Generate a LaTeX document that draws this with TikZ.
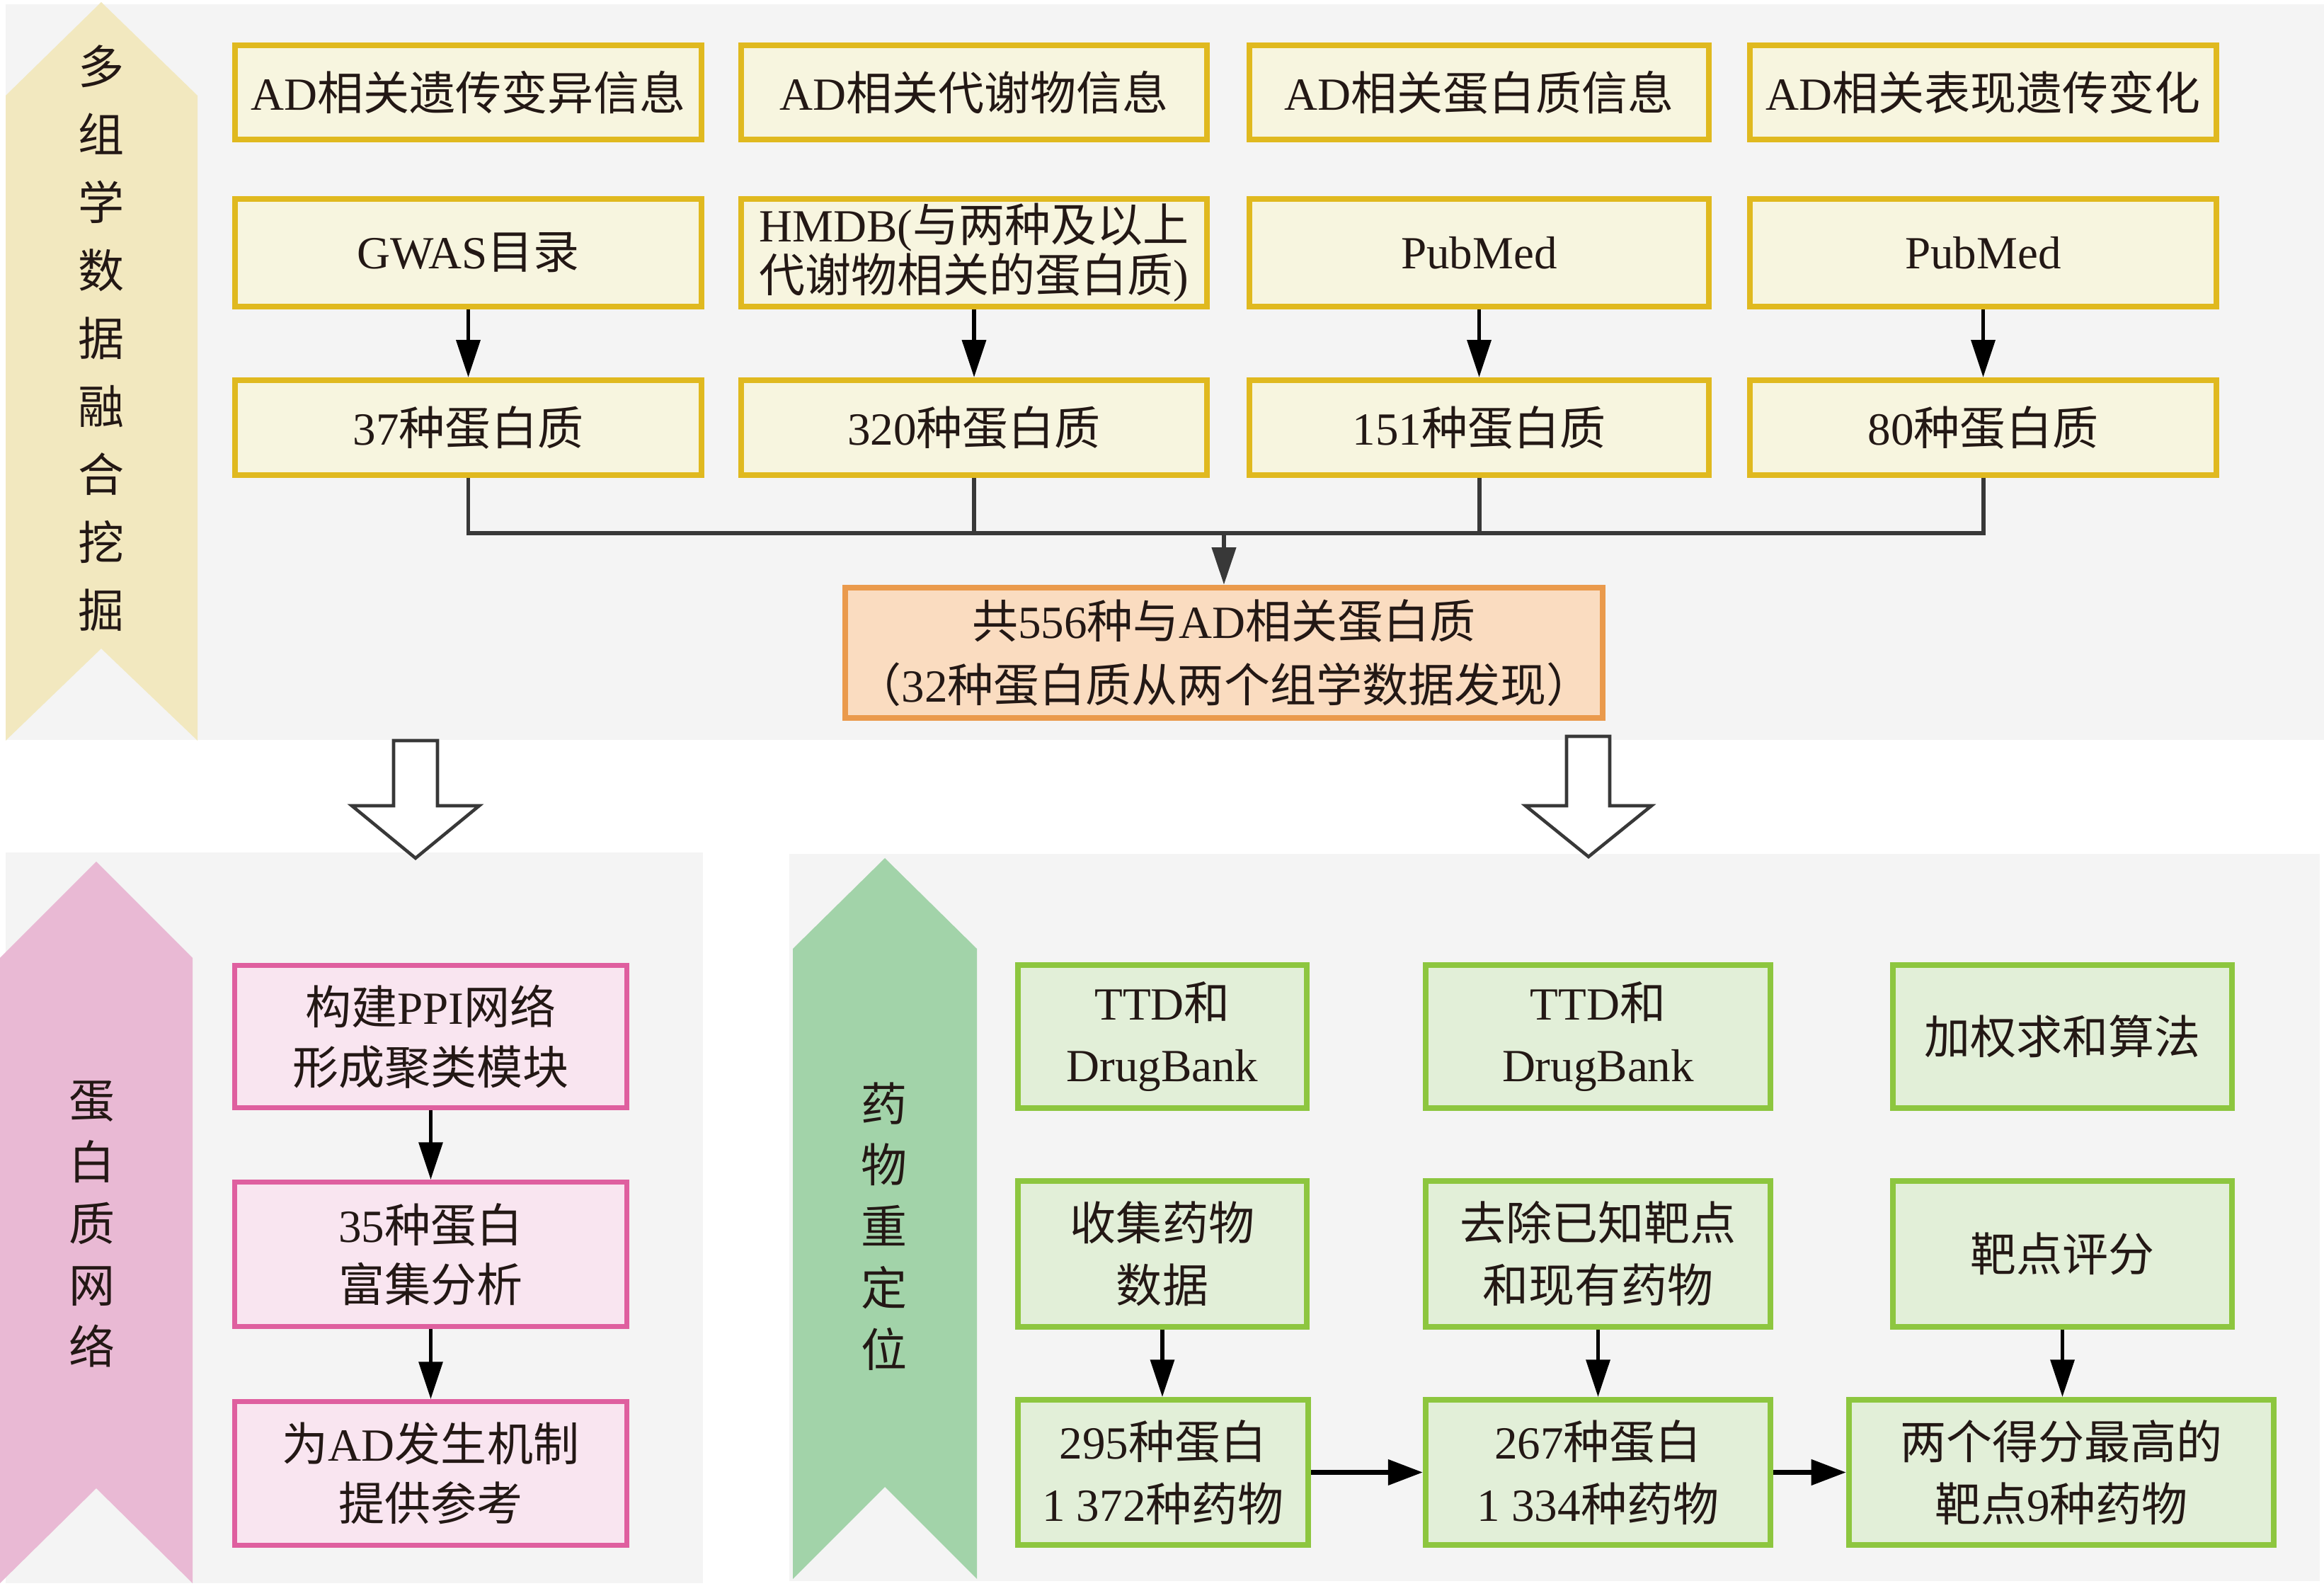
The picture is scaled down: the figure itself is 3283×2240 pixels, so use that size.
\documentclass[tikz,border=0pt]{standalone}
\usepackage{fontspec}
\setmainfont{Noto Sans CJK SC}
\newfontfamily\latf{Liberation Serif}
\newcommand\enx[1]{{\latf #1}}
\usetikzlibrary{arrows.meta}
\definecolor{panel}{HTML}{F4F4F4}
\definecolor{txt}{HTML}{231815}
\definecolor{ychev}{HTML}{F2E8BF}
\definecolor{yfill}{HTML}{F7F5DF}
\definecolor{ydraw}{HTML}{E0B91F}
\definecolor{ofill}{HTML}{FADCC0}
\definecolor{odraw}{HTML}{EA9A4C}
\definecolor{pchev}{HTML}{E9B9D4}
\definecolor{pfill}{HTML}{F9E5F0}
\definecolor{pdraw}{HTML}{DF5F9F}
\definecolor{gchev}{HTML}{A2D3A9}
\definecolor{gfill}{HTML}{E2EFD8}
\definecolor{gdraw}{HTML}{8DC63F}
\definecolor{busc}{HTML}{383838}
\tikzset{
  boxbase/.style={rectangle, inner sep=0pt, align=center, text=txt,
    font=\fontsize{18.5pt}{25pt}\selectfont},
  ybox/.style={boxbase, draw=ydraw, fill=yfill, line width=2.3pt},
  obox/.style={boxbase, draw=odraw, fill=ofill, line width=2.3pt,
    font=\fontsize{18.5pt}{25.6pt}\selectfont},
  pbox/.style={boxbase, draw=pdraw, fill=pfill, line width=1.9pt,
    font=\fontsize{18.5pt}{24pt}\selectfont},
  gbox/.style={boxbase, draw=gdraw, fill=gfill, line width=2.2pt},
  vtext/.style={inner sep=0pt, align=center, text=txt},
  arr/.style={draw=black, line width=1.5pt, -{Triangle[length=15pt,width=9.5pt]}},
  harr/.style={draw=black, line width=2pt, -{Triangle[length=14pt,width=10pt]}},
  bus/.style={draw=busc, line width=1.7pt},
  hollow/.style={draw=busc, fill=white, line width=1.3pt, line join=miter}
}
\begin{document}
\begin{tikzpicture}[x=0.01cm, y=-0.01cm]
\useasboundingbox (0,0) rectangle (3283,2240);
\fill[white] (0,0) rectangle (3283,2240);
% panels
\fill[panel] (8,6) rectangle (3283,1045);
\fill[panel] (8,1204) rectangle (993,2236);
\fill[panel] (1115,1206) rectangle (3277,2233);
% chevrons
\fill[ychev] (8,135) -- (143,3) -- (279,135) -- (279,1046) -- (143,916) -- (8,1046) -- cycle;
\fill[pchev] (0,1353) -- (136,1217) -- (272,1353) -- (272,2236) -- (136,2102) -- (0,2236) -- cycle;
\fill[gchev] (1120,1340) -- (1250,1212) -- (1380,1340) -- (1380,2230) -- (1250,2100) -- (1120,2230) -- cycle;
\node[vtext, font=\fontsize{18.5pt}{27.3pt}\selectfont] (ylab) at (143,478) {多\\组\\学\\数\\据\\融\\合\\挖\\掘};
\node[vtext, font=\fontsize{18.5pt}{24.7pt}\selectfont] (plab) at (130,1729) {蛋\\白\\质\\网\\络};
\node[vtext, font=\fontsize{18.5pt}{24.7pt}\selectfont] (glab) at (1249,1732) {药\\物\\重\\定\\位};
% top boxes
\node[ybox, minimum width=6.59cm, minimum height=1.33cm] (t1a) at (661.5,130.5) {\enx{AD}相关遗传变异信息};
\node[ybox, minimum width=6.58cm, minimum height=1.33cm] (t1b) at (1376,130.5) {\enx{AD}相关代谢物信息};
\node[ybox, minimum width=6.49cm, minimum height=1.33cm] (t1c) at (2089.5,130.5) {\enx{AD}相关蛋白质信息};
\node[ybox, minimum width=6.59cm, minimum height=1.33cm] (t1d) at (2801.5,130.5) {\enx{AD}相关表现遗传变化};
\node[ybox, minimum width=6.59cm, minimum height=1.52cm] (t2a) at (661.5,357) {\enx{GWAS}目录};
\node[ybox, minimum width=6.58cm, minimum height=1.52cm, font=\fontsize{18.5pt}{20.2pt}\selectfont] (t2b) at (1376,357) {\enx{HMDB(}与两种及以上\\代谢物相关的蛋白质\enx{)}};
\node[ybox, minimum width=6.49cm, minimum height=1.52cm] (t2c) at (2089.5,357) {\enx{PubMed}};
\node[ybox, minimum width=6.59cm, minimum height=1.52cm] (t2d) at (2801.5,357) {\enx{PubMed}};
\node[ybox, minimum width=6.59cm, minimum height=1.34cm] (t3a) at (661.5,604) {\enx{37}种蛋白质};
\node[ybox, minimum width=6.58cm, minimum height=1.34cm] (t3b) at (1376,604) {\enx{320}种蛋白质};
\node[ybox, minimum width=6.49cm, minimum height=1.34cm] (t3c) at (2089.5,604) {\enx{151}种蛋白质};
\node[ybox, minimum width=6.59cm, minimum height=1.34cm] (t3d) at (2801.5,604) {\enx{80}种蛋白质};
\foreach \c in {a,b,c,d} { \draw[arr] (t2\c.south) -- (t3\c.north); }
% bus
\coordinate (by) at (0,753);
\node[obox, minimum width=10.70cm, minimum height=1.84cm] (sum) at (1729,922) {共\enx{556}种与\enx{AD}相关蛋白质\\（\enx{32}种蛋白质从两个组学数据发现）};
\draw[bus] (t3a.south) -- (t3a.south |- by) -- (t3d.south |- by) -- (t3d.south);
\draw[bus] (t3b.south) -- (t3b.south |- by);
\draw[bus] (t3c.south) -- (t3c.south |- by);
\draw[bus, -{Triangle[length=15pt,width=9.5pt]}] (sum.north |- by) -- (sum.north);
% hollow arrows
\draw[hollow] (556,1046) -- (618,1046) -- (618,1138) -- (677,1138) -- (587,1212) -- (497,1138) -- (556,1138) -- cycle;
\draw[hollow] (2213,1040) -- (2274,1040) -- (2274,1138) -- (2333,1138) -- (2244,1210) -- (2155,1138) -- (2213,1138) -- cycle;
% pink boxes
\node[pbox, minimum width=5.54cm, minimum height=2.01cm] (p1) at (608.5,1464) {构建\enx{PPI}网络\\形成聚类模块};
\node[pbox, minimum width=5.54cm, minimum height=2.04cm] (p2) at (608.5,1771.5) {\enx{35}种蛋白\\富集分析};
\node[pbox, minimum width=5.54cm, minimum height=2.03cm] (p3) at (608.5,2081) {为\enx{AD}发生机制\\提供参考};
\draw[arr] (p1.south) -- (p2.north);
\draw[arr] (p2.south) -- (p3.north);
% green boxes
\node[gbox, minimum width=4.08cm, minimum height=2.02cm] (g1a) at (1642,1464) {\enx{TTD}和\\\enx{DrugBank}};
\node[gbox, minimum width=4.87cm, minimum height=2.02cm] (g1b) at (2257.5,1464) {\enx{TTD}和\\\enx{DrugBank}};
\node[gbox, minimum width=4.79cm, minimum height=2.02cm] (g1c) at (2913.5,1464) {加权求和算法};
\node[gbox, minimum width=4.08cm, minimum height=2.06cm] (g2a) at (1642,1771) {收集药物\\数据};
\node[gbox, minimum width=4.87cm, minimum height=2.06cm] (g2b) at (2257.5,1771) {去除已知靶点\\和现有药物};
\node[gbox, minimum width=4.79cm, minimum height=2.06cm] (g2c) at (2913.5,1771) {靶点评分};
\node[gbox, minimum width=4.10cm, minimum height=2.05cm] (g3a) at (1643,2079.5) {\enx{295}种蛋白\\\enx{1 372}种药物};
\node[gbox, minimum width=4.87cm, minimum height=2.05cm] (g3b) at (2257.5,2079.5) {\enx{267}种蛋白\\\enx{1 334}种药物};
\node[gbox, minimum width=6.00cm, minimum height=2.05cm] (g3c) at (2912,2079.5) {两个得分最高的\\靶点\enx{9}种药物};
\draw[arr] (g2a.south) -- (g2a.south |- g3a.north);
\draw[arr] (g2b.south) -- (g2b.south |- g3b.north);
\draw[arr] (g2c.south) -- (g2c.south |- g3c.north);
\draw[harr] (g3a.east) -- (g3b.west);
\draw[harr] (g3b.east) -- (g3c.west);
\end{tikzpicture}
\end{document}
